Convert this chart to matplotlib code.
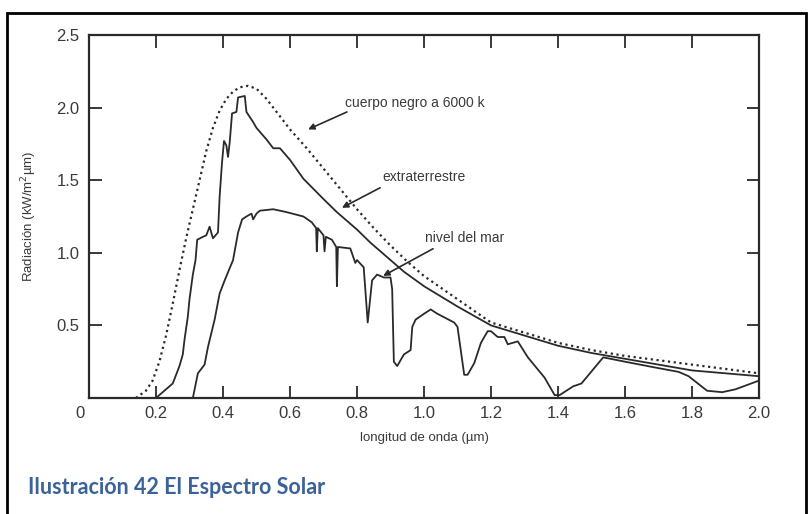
import matplotlib.pyplot as plt
from matplotlib.patches import Rectangle
from matplotlib.transforms import ScaledTranslation

plt.rcParams['font.family'] = ['Liberation Sans', 'DejaVu Sans']

# cuerpo negro a 6000 K
bb_wl = [0.14, 0.17, 0.19, 0.21, 0.23, 0.25, 0.27, 0.29, 0.31, 0.33, 0.35, 0.37,
         0.39, 0.41, 0.43, 0.45, 0.475, 0.50, 0.53, 0.56, 0.60, 0.65, 0.70, 0.75,
         0.80, 0.85, 0.90, 0.95, 1.0, 1.1, 1.2, 1.3, 1.4, 1.5, 1.6, 1.7, 1.8, 1.9, 2.0]
bb_rad = [0.0, 0.05, 0.12, 0.25, 0.43, 0.65, 0.88, 1.10, 1.30, 1.50, 1.70, 1.86,
          1.98, 2.06, 2.11, 2.14, 2.15, 2.13, 2.06, 1.97, 1.85, 1.72, 1.58, 1.44,
          1.30, 1.17, 1.05, 0.94, 0.84, 0.68, 0.52, 0.45, 0.38, 0.33, 0.29, 0.26, 0.23, 0.20, 0.17]

# extraterrestre
ext_wl = [0.20, 0.25, 0.27, 0.275, 0.28, 0.285, 0.295, 0.30, 0.31, 0.318, 0.323, 0.34,
          0.35, 0.36, 0.37, 0.385, 0.39, 0.397, 0.403, 0.41, 0.415, 0.42, 0.427, 0.44,
          0.445, 0.465, 0.47, 0.49, 0.50, 0.53, 0.55, 0.57, 0.60, 0.64, 0.70, 0.74,
          0.80, 0.84, 0.90, 0.94, 1.0, 1.05, 1.1, 1.2, 1.3, 1.4, 1.5, 1.6, 1.7, 1.8, 1.9, 2.0]
ext_rad = [0.0, 0.10, 0.22, 0.26, 0.30, 0.40, 0.56, 0.68, 0.85, 0.95, 1.09, 1.11,
           1.12, 1.18, 1.10, 1.14, 1.39, 1.62, 1.77, 1.74, 1.66, 1.76, 1.96, 1.97,
           2.07, 2.08, 1.97, 1.90, 1.86, 1.78, 1.72, 1.72, 1.64, 1.51, 1.37, 1.28,
           1.16, 1.07, 0.95, 0.87, 0.77, 0.70, 0.63, 0.50, 0.43, 0.36, 0.31, 0.27, 0.23, 0.19, 0.17, 0.15]

# nivel del mar
sea_wl = [0.31, 0.325, 0.345, 0.355, 0.375, 0.39, 0.405, 0.43, 0.445, 0.457, 0.47, 0.485,
          0.49, 0.50, 0.51, 0.55, 0.59, 0.64, 0.665, 0.678, 0.68, 0.683, 0.70, 0.703,
          0.707, 0.725, 0.738, 0.74, 0.743, 0.78, 0.795, 0.80, 0.82, 0.832, 0.845, 0.86,
          0.88, 0.90, 0.905, 0.91, 0.92, 0.94, 0.96, 0.965, 0.975, 1.0, 1.02, 1.04,
          1.09, 1.10, 1.12, 1.13, 1.15, 1.17, 1.19, 1.20, 1.22, 1.24, 1.25, 1.28,
          1.31, 1.36, 1.39, 1.405, 1.445, 1.47, 1.535, 1.60, 1.69, 1.76, 1.79, 1.845,
          1.89, 1.93, 2.0]
sea_rad = [0.0, 0.17, 0.23, 0.35, 0.54, 0.72, 0.81, 0.95, 1.14, 1.23, 1.25, 1.27,
           1.23, 1.27, 1.29, 1.30, 1.28, 1.25, 1.21, 1.17, 1.01, 1.17, 1.12, 1.01,
           1.11, 1.09, 1.04, 0.77, 1.04, 1.03, 0.93, 0.95, 0.90, 0.52, 0.81, 0.85,
           0.83, 0.83, 0.75, 0.25, 0.22, 0.30, 0.33, 0.49, 0.54, 0.58, 0.61, 0.58,
           0.52, 0.49, 0.16, 0.16, 0.24, 0.38, 0.46, 0.46, 0.42, 0.42, 0.37, 0.39,
           0.28, 0.14, 0.02, 0.02, 0.08, 0.10, 0.28, 0.25, 0.21, 0.18, 0.15, 0.05,
           0.04, 0.06, 0.12]

x_ticks = [0, 0.2, 0.4, 0.6, 0.8, 1.0, 1.2, 1.4, 1.6, 1.8, 2.0]
x_labels = ['0', '0.2', '0.4', '0.6', '0.8', '1.0', '1.2', '1.4', '1.6', '1.8', '2.0']
y_ticks = [0, 0.5, 1.0, 1.5, 2.0, 2.5]
y_labels = ['', '0.5', '1.0', '1.5', '2.0', '2.5']

ink = '#2a2a2a'
txt = '#3a3a3a'

fig = plt.figure(figsize=(8.12, 5.14), dpi=100)
ax = fig.add_axes([89 / 812, 1 - 398 / 514, 670 / 812, 363 / 514])

ax.plot(bb_wl, bb_rad, color=ink, lw=1.6, linestyle=(0, (1, 1.6)))
ax.plot(ext_wl, ext_rad, color=ink, lw=1.3)
ax.plot(sea_wl, sea_rad, color=ink, lw=1.3)

ax.set_xlim(0, 2.0)
ax.set_ylim(0, 2.5)
ax.set_xticks(x_ticks)
ax.set_xticklabels(x_labels)
ax.set_yticks(y_ticks)
ax.set_yticklabels(y_labels)
ax.tick_params(direction='in', length=9, width=1.3, color=ink, labelcolor=txt,
               labelsize=12, top=True, right=True)
ax.tick_params(axis='x', pad=6)
ax.tick_params(axis='y', pad=7)
for s in ax.spines.values():
    s.set_linewidth(1.6)
    s.set_color(ink)

# el "0" del eje x esta un poco a la izquierda en el original
lab0 = ax.xaxis.get_major_ticks()[0].label1
lab0.set_transform(lab0.get_transform() + ScaledTranslation(-0.09, 0, fig.dpi_scale_trans))

ax.set_xlabel('longitud de onda (µm)', fontsize=9.5, color=txt, labelpad=8)
ax.set_ylabel('Radiación (kW/m$^2$µm)', fontsize=9.5, color=txt, labelpad=12)

# etiquetas con flecha
arrow = dict(arrowstyle='-|>', color=ink, lw=1.2, mutation_scale=9, shrinkA=0, shrinkB=0)
ax.text(0.764, 2.03, 'cuerpo negro a 6000 k', fontsize=10, color=txt, va='center')
ax.annotate('', xy=(0.654, 1.85), xytext=(0.77, 1.97), arrowprops=arrow)
ax.text(0.875, 1.524, 'extraterrestre', fontsize=10, color=txt, va='center')
ax.annotate('', xy=(0.755, 1.31), xytext=(0.869, 1.448), arrowprops=arrow)
ax.text(1.003, 1.103, 'nivel del mar', fontsize=10, color=txt, va='center')
ax.annotate('', xy=(0.878, 0.841), xytext=(1.027, 1.028), arrowprops=arrow)

# marco y pie de figura
fig.patches.append(Rectangle((7 / 812, -0.05), 799 / 812, 1.05 - 13 / 514,
                             transform=fig.transFigure, fill=False,
                             edgecolor='black', lw=2))
fig.text(28 / 812, 1 - 488 / 514, 'Ilustración 42 El Espectro Solar',
         fontsize=15.5, fontweight='bold', color='#3b6398', family='Lato', va='center')

fig.savefig('out.png', dpi=100)
